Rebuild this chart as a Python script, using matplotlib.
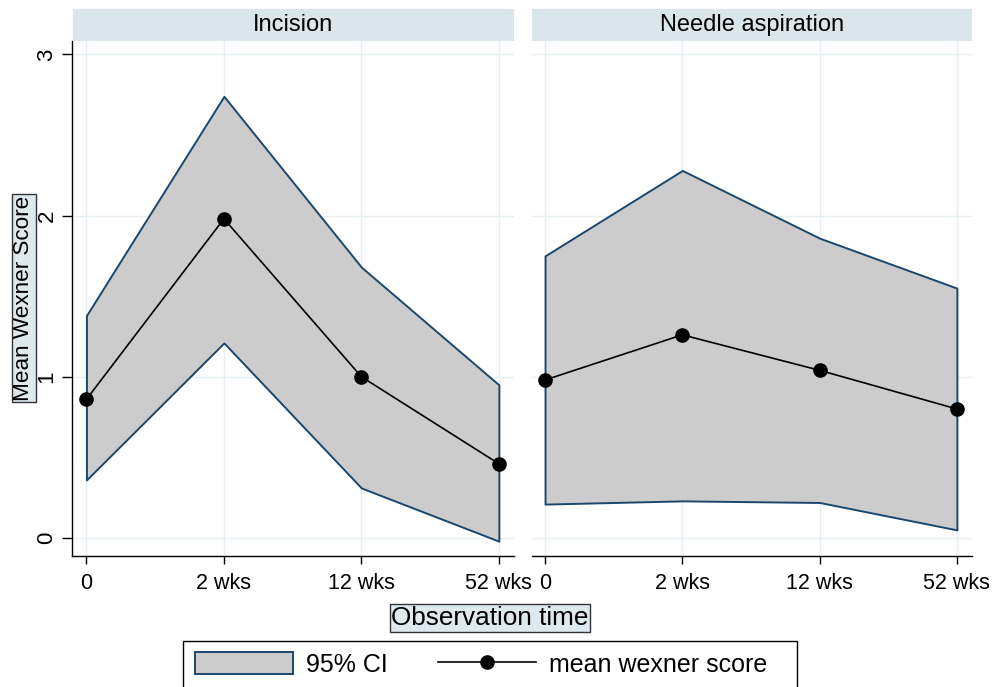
import matplotlib
matplotlib.use("Agg")
import matplotlib.pyplot as plt
from matplotlib.patches import Patch, Rectangle
from matplotlib.lines import Line2D

plt.rcParams['font.family'] = ['Liberation Sans', 'DejaVu Sans']

# Observation times and labels
time_pos = [0, 1, 2, 3]
time_labels = ["0", "2 wks", "12 wks", "52 wks"]

# Incision group
incision_mean = [0.86, 1.98, 1.00, 0.46]
incision_upper = [1.38, 2.74, 1.68, 0.95]
incision_lower = [0.36, 1.21, 0.31, -0.02]

# Needle aspiration group
needle_mean = [0.98, 1.26, 1.04, 0.80]
needle_upper = [1.75, 2.28, 1.86, 1.55]
needle_lower = [0.21, 0.23, 0.22, 0.05]

panel_titles = ["Incision", "Needle aspiration"]
y_ticks = [0, 1, 2, 3]

ci_fill = "#cccccc"
ci_edge = "#1a476f"
grid_col = "#e6eff2"
strip_col = "#d9e6eb"
box_col = "#dce9ef"

W, H = 1003, 687
fig = plt.figure(figsize=(W / 100, H / 100), dpi=100)


def fx(px):
    return px / W


def fy(py):
    return 1 - py / H


panels = [
    (72, 514, incision_mean, incision_upper, incision_lower),
    (532, 972, needle_mean, needle_upper, needle_lower),
]
top_px, bot_px = 41, 556

for i, (x0, x1, mean, upper, lower) in enumerate(panels):
    ax = fig.add_axes([fx(x0), fy(bot_px), fx(x1 - x0), (bot_px - top_px) / H])
    ax.fill_between(time_pos, lower, upper, facecolor=ci_fill, edgecolor=ci_edge,
                    linewidth=1.4, zorder=2)
    ax.plot(time_pos, mean, color="black", linewidth=1.2, marker="o",
            markersize=9.5, zorder=3)
    ax.set_xlim(-0.105 if i == 0 else -0.095, 3.11)
    ax.set_ylim(-0.112, 3.083)
    ax.set_xticks(time_pos)
    ax.set_xticklabels(time_labels, fontsize=15.5)
    ax.set_yticks(y_ticks)
    ax.grid(True, color=grid_col, linewidth=1.0, zorder=0)
    ax.set_axisbelow(True)
    for s in ["top", "right"]:
        ax.spines[s].set_visible(False)
    ax.spines["bottom"].set_linewidth(1.0)
    ax.tick_params(axis="x", length=6, width=1.0, pad=6, colors="black")
    if i == 0:
        ax.spines["left"].set_linewidth(1.0)
        ax.set_yticklabels([str(t) for t in y_ticks], fontsize=16,
                           rotation=90, va="center")
        ax.tick_params(axis="y", length=7, width=1.0, pad=3.5)
    else:
        ax.spines["left"].set_visible(False)
        ax.tick_params(axis="y", left=False, labelleft=False)

    # Panel header strip
    hx0 = x0 + 1 if i == 0 else x0
    hax = fig.add_axes([fx(hx0), fy(41), fx(x1 - hx0), 32 / H])
    hax.set_facecolor(strip_col)
    hax.set_xticks([])
    hax.set_yticks([])
    for s in hax.spines.values():
        s.set_visible(False)
    hax.text(0.5, 0.5, panel_titles[i], ha="center", va="center",
             fontsize=17, transform=hax.transAxes)

# Axis titles in boxes
fig.text(fx(24), fy(298), "Mean Wexner Score", rotation=90, ha="center",
         va="center", fontsize=16.2,
         bbox=dict(boxstyle="square,pad=0.08", facecolor=box_col,
                   edgecolor="#333333", linewidth=1.0))
fig.text(fx(490), fy(618), "Observation time", ha="center", va="center",
         fontsize=18.8,
         bbox=dict(boxstyle="square,pad=0.06", facecolor=box_col,
                   edgecolor="#333333", linewidth=1.0))

# Legend frame, running past the lower edge of the figure
fig.patches.append(Rectangle((fx(183), fy(700)), fx(797 - 183), (700 - 641) / H,
                             transform=fig.transFigure, facecolor="white",
                             edgecolor="black", linewidth=1.0, zorder=1))

handles = [
    Patch(facecolor=ci_fill, edgecolor=ci_edge, linewidth=1.4),
    Line2D([0], [0], color="black", linewidth=1.2, marker="o", markersize=9.5),
]
leg = fig.legend(handles, ["95% CI", "mean wexner score"], ncol=2,
                 loc="upper left", bbox_to_anchor=(fx(195), fy(652)),
                 fontsize=18, frameon=False,
                 handlelength=3.9, handleheight=1.0, handletextpad=0.55,
                 columnspacing=2.0, borderpad=0.0, borderaxespad=0)
leg.set_zorder(2)

fig.savefig("out.png", dpi=100)
